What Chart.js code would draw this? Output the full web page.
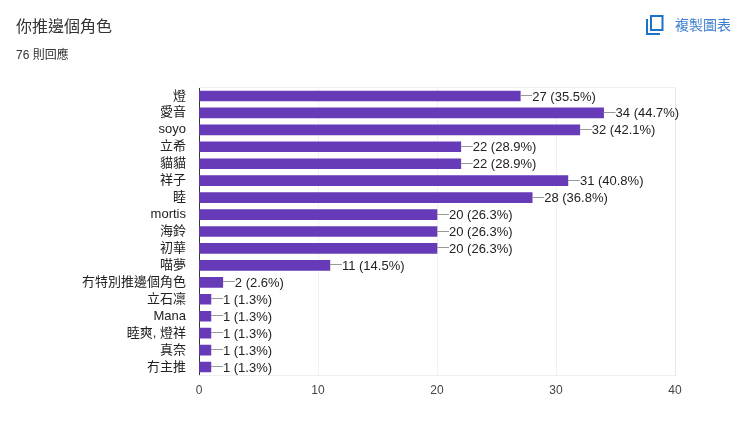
<!DOCTYPE html>
<html>
<head>
<meta charset="utf-8">
<script src="https://cdn.jsdelivr.net/npm/chart.js@4"></script>
<style>
  html, body { margin: 0; padding: 0; background: #fff; }
  body { width: 750px; height: 433px; position: relative; overflow: hidden; font-family: "Liberation Sans", "Noto Sans CJK TC", sans-serif; }
  #title { position: absolute; left: 16px; top: 16px; font-size: 16px; line-height: 22px; color: #333; }
  #sub { position: absolute; left: 16px; top: 47px; font-size: 12px; line-height: 16px; color: #333; }
  #copy { position: absolute; left: 675px; top: 16px; font-size: 14px; line-height: 18px; color: #3f7fcf; }
  #icon { position: absolute; left: 645px; top: 14px; }
  #wrap { position: absolute; left: 0; top: 0; width: 750px; height: 433px; }
</style>
</head>
<body>
<div id="wrap"><canvas id="chart" width="750" height="433"></canvas></div>
<div id="title">你推邊個角色</div>
<div id="sub">76 則回應</div>
<svg id="icon" width="20" height="22" viewBox="0 0 20 22">
  <path d="M2 5v15h13" fill="none" stroke="#1a73c8" stroke-width="2"/>
  <rect x="6" y="2" width="11.5" height="14" fill="none" stroke="#1a73c8" stroke-width="2"/>
</svg>
<div id="copy">複製圖表</div>
<script>
// 資料
const categories = ["燈", "愛音", "soyo", "立希", "貓貓", "祥子", "睦", "mortis", "海鈴", "初華", "喵夢", "冇特別推邊個角色", "立石凜", "Mana", "睦爽, 燈祥", "真奈", "冇主推"];
const counts = [27, 34, 32, 22, 22, 31, 28, 20, 20, 20, 11, 2, 1, 1, 1, 1, 1];
const percents = ["35.5", "44.7", "42.1", "28.9", "28.9", "40.8", "36.8", "26.3", "26.3", "26.3", "14.5", "2.6", "1.3", "1.3", "1.3", "1.3", "1.3"];
const tickValues = [0, 10, 20, 30, 40];

const FONT = '"Liberation Sans", "Noto Sans CJK TC", sans-serif';

// 上下邊框
const plotFrame = {
  id: "plotFrame",
  beforeDatasetsDraw(chart) {
    const { ctx, chartArea: a } = chart;
    ctx.save();
    ctx.strokeStyle = "#eeeeee";
    ctx.lineWidth = 1;
    ctx.beginPath();
    ctx.moveTo(a.left, Math.floor(a.top) + 0.5);
    ctx.lineTo(a.right, Math.floor(a.top) + 0.5);
    ctx.moveTo(a.left, Math.floor(a.bottom) + 0.5);
    ctx.lineTo(a.right, Math.floor(a.bottom) + 0.5);
    ctx.stroke();
    ctx.restore();
  },
};

// 數值標籤 + 引線
const valueLabels = {
  id: "valueLabels",
  afterDatasetsDraw(chart) {
    const { ctx } = chart;
    const bars = chart.getDatasetMeta(0).data;
    ctx.save();
    ctx.font = "13px " + FONT;
    ctx.textAlign = "left";
    ctx.textBaseline = "middle";
    bars.forEach((bar, i) => {
      ctx.strokeStyle = "#999";
      ctx.lineWidth = 1;
      ctx.beginPath();
      ctx.moveTo(bar.x, Math.round(bar.y) - 0.5);
      ctx.lineTo(bar.x + 12, Math.round(bar.y) - 0.5);
      ctx.stroke();
      ctx.fillStyle = "#222";
      ctx.fillText(counts[i] + " (" + percents[i] + "%)", bar.x + 12, bar.y + 1);
    });
    ctx.restore();
  },
};

new Chart(document.getElementById("chart").getContext("2d"), {
  type: "bar",
  data: {
    labels: categories,
    datasets: [
      {
        data: counts,
        backgroundColor: "#673ab7",
        barThickness: 10,
      },
    ],
  },
  options: {
    indexAxis: "y",
    responsive: false,
    animation: false,
    layout: { padding: { top: 87.5, right: 75, bottom: 0, left: 0 } },
    plugins: { legend: { display: false }, tooltip: { enabled: false } },
    scales: {
      x: {
        min: 0,
        max: 40,
        afterFit: (scale) => { scale.height = 57.5; },
        afterBuildTicks: (scale) => { scale.ticks = tickValues.map((v) => ({ value: v })); },
        grid: {
          color: (c) => (c.tick && c.tick.value === 40 ? "#e8e8e8" : "#f1f1f1"),
          drawTicks: false,
        },
        border: { display: false },
        ticks: { color: "#444", font: { family: FONT, size: 12 }, padding: 8, maxRotation: 0 },
      },
      y: {
        afterFit: (scale) => { scale.width = 199; },
        grid: { display: false, drawTicks: false },
        border: { display: true, color: "#333", width: 1 },
        ticks: { color: "#222", font: { family: FONT, size: 13 }, padding: 13, autoSkip: false },
      },
    },
  },
  plugins: [plotFrame, valueLabels],
});
</script>
</body>
</html>
